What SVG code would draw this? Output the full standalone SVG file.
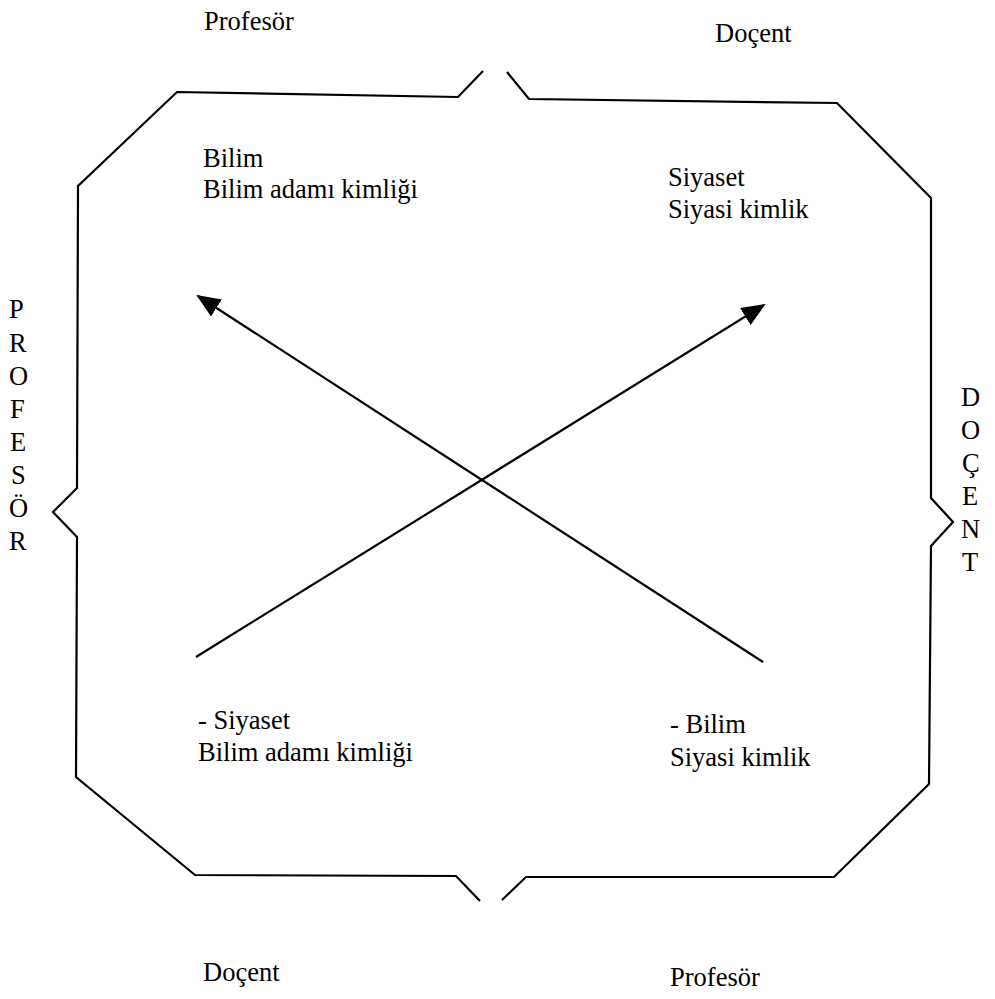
<svg xmlns="http://www.w3.org/2000/svg" width="995" height="999" viewBox="0 0 995 999">
<style>
.t{font-family:'Liberation Serif','Times New Roman',Tinos,'Nimbus Roman','DejaVu Serif',serif;font-size:26.5px;fill:#000}
.frame{fill:none;stroke:#000;stroke-width:2.2;stroke-linejoin:miter}
.conn{fill:none;stroke:#000;stroke-width:2.2}
</style>
<defs>
<marker id="ah" viewBox="0 0 24 20" refX="22" refY="10" markerWidth="24" markerHeight="20" markerUnits="userSpaceOnUse" orient="auto">
<path d="M0,0 L24,10 L0,20 Z" fill="#000"/>
</marker>
</defs>
<rect width="995" height="999" fill="#fff"/>
<g id="frame">
<path class="frame" d="M483,71 L458,97 L177,92 L78,186 L77,488 L53,512 L77,537 L76,777 L195,875 L456,876 L480,901"/>
<path class="frame" d="M507,72 L529,99 L837,103 L931,198 L931,498 L953,522 L931,546 L929,784 L834,877 L526,877 L502,900"/>
</g>
<g id="connectors">
<line class="conn" x1="196" y1="657" x2="764" y2="305" marker-end="url(#ah)"/>
<line class="conn" x1="763" y1="662" x2="198" y2="296" marker-end="url(#ah)"/>
</g>
<g id="top-labels" font-family="Liberation Serif, serif">
<text class="t" x="204" y="30">Profesör</text>
<text class="t" x="715" y="42">Doçent</text>
</g>
<g id="bottom-labels">
<text class="t" x="203" y="981">Doçent</text>
<text class="t" x="670" y="986">Profesör</text>
</g>
<g id="left-label">
<text class="t" x="9" y="318">P</text>
<text class="t" x="9" y="352">R</text>
<text class="t" x="9" y="385">O</text>
<text class="t" x="10" y="418">F</text>
<text class="t" x="10" y="451">E</text>
<text class="t" x="11" y="484">S</text>
<text class="t" x="9" y="517">Ö</text>
<text class="t" x="9" y="550">R</text>
</g>
<g id="right-label">
<text class="t" x="961" y="406">D</text>
<text class="t" x="961" y="439">O</text>
<text class="t" x="962" y="472">Ç</text>
<text class="t" x="962" y="505">E</text>
<text class="t" x="961" y="538">N</text>
<text class="t" x="962" y="571">T</text>
</g>
<g id="node-tl">
<text class="t" x="203" y="167">Bilim</text>
<text class="t" x="203" y="198">Bilim adamı kimliği</text>
</g>
<g id="node-tr">
<text class="t" x="668" y="186">Siyaset</text>
<text class="t" x="668" y="218">Siyasi kimlik</text>
</g>
<g id="node-bl">
<text class="t" x="198" y="729">- Siyaset</text>
<text class="t" x="198" y="761">Bilim adamı kimliği</text>
</g>
<g id="node-br">
<text class="t" x="670" y="733">- Bilim</text>
<text class="t" x="670" y="766">Siyasi kimlik</text>
</g>
</svg>
